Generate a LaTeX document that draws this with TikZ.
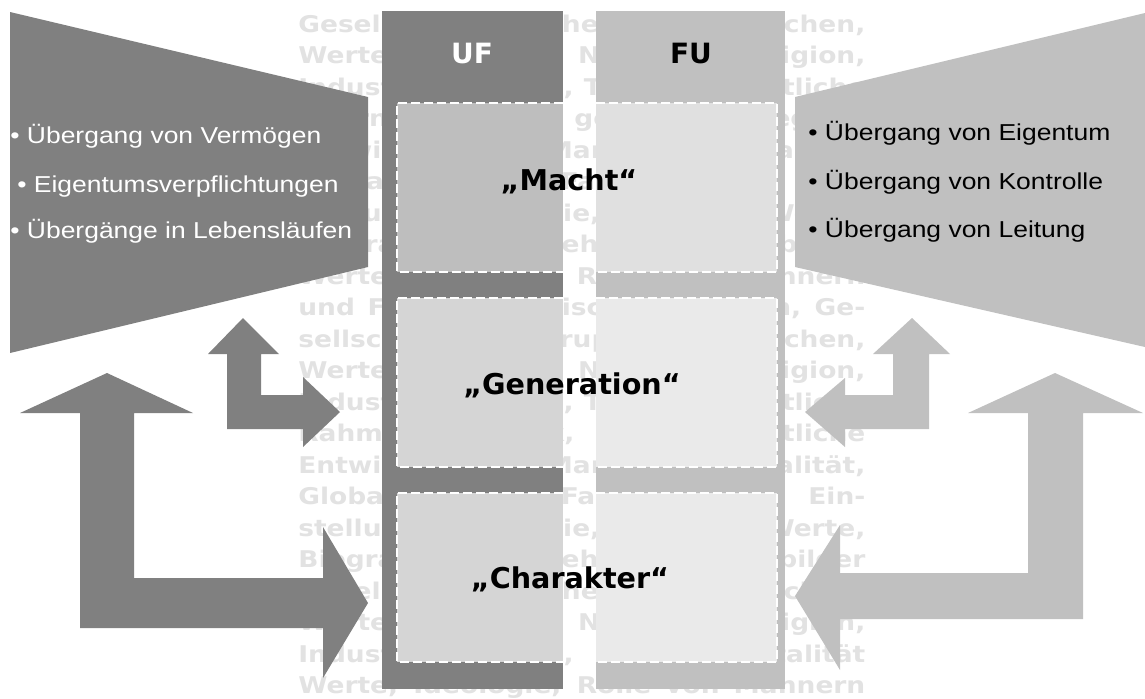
\documentclass[tikz,border=0pt]{standalone}
\usepackage{fontspec}
\usepackage{graphicx}
\newfontfamily\dvs{DejaVu Sans}
\newfontfamily\lib{Liberation Sans}
\newlength\pxu \setlength\pxu{0.02cm}
\newcommand\bgline[1]{\scalebox{1.15}[1]{\makebox[493\pxu][s]{#1}}}
\newcommand\wideA[1]{\scalebox{1.15}[1]{#1}}
\definecolor{dkgray}{HTML}{808080}
\definecolor{ltgray}{HTML}{C0C0C0}
\definecolor{bgtxt}{HTML}{E2E2E2}
\definecolor{ufboxA}{HTML}{BEBEBE}
\definecolor{ufboxB}{HTML}{D5D5D5}
\definecolor{fuboxA}{HTML}{E0E0E0}
\definecolor{fuboxB}{HTML}{EAEAEA}
\tikzset{
  bgtext/.style={anchor=base west, inner sep=0pt, text=bgtxt, font=\dvs\bfseries\fontsize{13.09}{15}\selectfont},
  bullettext/.style={anchor=base west, inner sep=0pt, font=\lib\fontsize{13.1}{15}\selectfont},
  headtext/.style={anchor=base, inner sep=0pt, font=\dvs\bfseries\fontsize{15.9}{18}\selectfont},
  boxtext/.style={anchor=base, inner sep=0pt, text=black, font=\dvs\bfseries\fontsize{16.3}{20}\selectfont},
  dashbox/.style={draw=white, line width=0.035cm, dash pattern=on 0.18cm off 0.08cm},
  darkshape/.style={fill=dkgray, draw=none},
  lightshape/.style={fill=ltgray, draw=none}
}
\begin{document}
\begin{tikzpicture}[x=0.02cm,y=-0.02cm]
\useasboundingbox[fill=white] (0,0) rectangle (1145,698);
% background paragraph
\node[bgtext] (bg0)  at (298,32)    {\bgline{Gesellschaft, Kirche, Dorf, Menschen,}};
\node[bgtext] (bg1)  at (298,63.5)  {\bgline{Werte, Bildung, Normen, Religion,}};
\node[bgtext] (bg2)  at (298,95)    {\bgline{Industrialisierung, Technik, rechtliche}};
\node[bgtext] (bg3)  at (298,126.5) {\bgline{Eltern, Erziehung, gesetzliche Regeln,}};
\node[bgtext] (bg4)  at (298,158)   {\bgline{Entwicklung, Markt, Mentalität,}};
\node[bgtext] (bg5)  at (298,189.5) {\bgline{Globalisierung, Familie, Ort, Ein-}};
\node[bgtext] (bg6)  at (298,221)   {\bgline{stellungen, Familie, Religion, Werte,}};
\node[bgtext] (bg7)  at (298,252.5) {\bgline{Biografie, Erziehung, Vorbilder}};
\node[bgtext] (bg8)  at (298,284)   {\bgline{Werte, Ideologie, Rolle von Männern}};
\node[bgtext] (bg9)  at (298,315.5) {\bgline{und Frauen, politisches Handeln, Ge-}};
\node[bgtext] (bg10) at (298,347)   {\bgline{sellschaftliche Gruppen, Menschen,}};
\node[bgtext] (bg11) at (298,378.5) {\bgline{Werte, Bildung, Normen, Religion,}};
\node[bgtext] (bg12) at (298,410)   {\bgline{Industrialisierung, Technik, rechtliche}};
\node[bgtext] (bg13) at (298,441.5) {\bgline{Rahmen, Politik, gesellschaftliche}};
\node[bgtext] (bg14) at (298,473)   {\bgline{Entwicklung, Markt, Mentalität,}};
\node[bgtext] (bg15) at (298,504.5) {\bgline{Globalisierung, Familie, Ort, Ein-}};
\node[bgtext] (bg16) at (298,536)   {\bgline{stellungen, Familie, Religion, Werte,}};
\node[bgtext] (bg17) at (298,567.5) {\bgline{Biografie, Erziehung, Vorbilder}};
\node[bgtext] (bg18) at (298,599)   {\bgline{Gesellschaft, Kirche, Dorf, Menschen,}};
\node[bgtext] (bg19) at (298,630.5) {\bgline{Werte, Bildung, Normen, Religion,}};
\node[bgtext] (bg20) at (298,662)   {\bgline{Industrialisierung, Mentalität}};
\node[bgtext] (bg21) at (298,693.5) {\bgline{Werte, Ideologie, Rolle von Männern}};
% side trapezoids
\fill[dkgray] (10,12) -- (368,97) -- (368,267) -- (10,353) -- cycle;
\fill[ltgray] (795,97) -- (1145,13) -- (1145,347) -- (795,267) -- cycle;
% columns
\fill[dkgray] (382,11) rectangle (563,689);
\fill[ltgray] (596,11) rectangle (785,689);
% inner boxes
\fill[ufboxA] (397,103) rectangle (563,272);
\fill[fuboxA] (596,103) rectangle (777,272);
\fill[ufboxB] (397,298) rectangle (563,467);
\fill[fuboxB] (596,298) rectangle (777,467);
\fill[ufboxB] (397,493) rectangle (563,662);
\fill[fuboxB] (596,493) rectangle (777,662);
\foreach \t/\b in {103/272, 298/467, 493/662}{
  \draw[dashbox] (563,\t) -- (397,\t) -- (397,\b) -- (563,\b);
  \draw[dashbox] (596,\t) -- (777,\t) -- (777,\b) -- (596,\b);
}
% arrows left
\path[darkshape] (243,318) -- (279,354) -- (261,354) -- (261,395) -- (303,395) -- (303,377) -- (340,412) -- (303,447) -- (303,429) -- (227,429) -- (227,354) -- (208,354) -- cycle;
\path[darkshape] (107,373) -- (193,413) -- (134,413) -- (134,578) -- (323,578) -- (323,527) -- (368,603) -- (323,678) -- (323,628) -- (80,628) -- (80,413) -- (20,413) -- cycle;
% arrows right
\path[lightshape] (912,318) -- (950,354) -- (929,354) -- (929,429) -- (845,429) -- (845,447) -- (805,412) -- (845,378) -- (845,395) -- (893,395) -- (893,354) -- (873,354) -- cycle;
\path[lightshape] (1055,373) -- (1143,413) -- (1083,413) -- (1083,619) -- (840,619) -- (840,670) -- (795,596) -- (840,525) -- (840,573) -- (1028,573) -- (1028,413) -- (968,413) -- cycle;
% headers
\node[headtext, text=white] (uf) at (472,63) {UF};
\node[headtext, text=black] (fu) at (691,63) {FU};
% box labels
\node[boxtext] (macht) at (569,190) {„Macht“};
\node[boxtext] (gen) at (572,394) {„Generation“};
\node[boxtext] (char) at (570,588) {„Charakter“};
% bullet lists
\node[bullettext, text=white] (l1) at (10,143) {\wideA{• Übergang von Vermögen}};
\node[bullettext, text=white] (l2) at (17,192) {\wideA{• Eigentumsverpflichtungen}};
\node[bullettext, text=white] (l3) at (10,238) {\wideA{• Übergänge in Lebensläufen}};
\node[bullettext, text=black] (r1) at (808,140) {\wideA{• Übergang von Eigentum}};
\node[bullettext, text=black] (r2) at (808,189) {\wideA{• Übergang von Kontrolle}};
\node[bullettext, text=black] (r3) at (808,237) {\wideA{• Übergang von Leitung}};
\end{tikzpicture}
\end{document}
